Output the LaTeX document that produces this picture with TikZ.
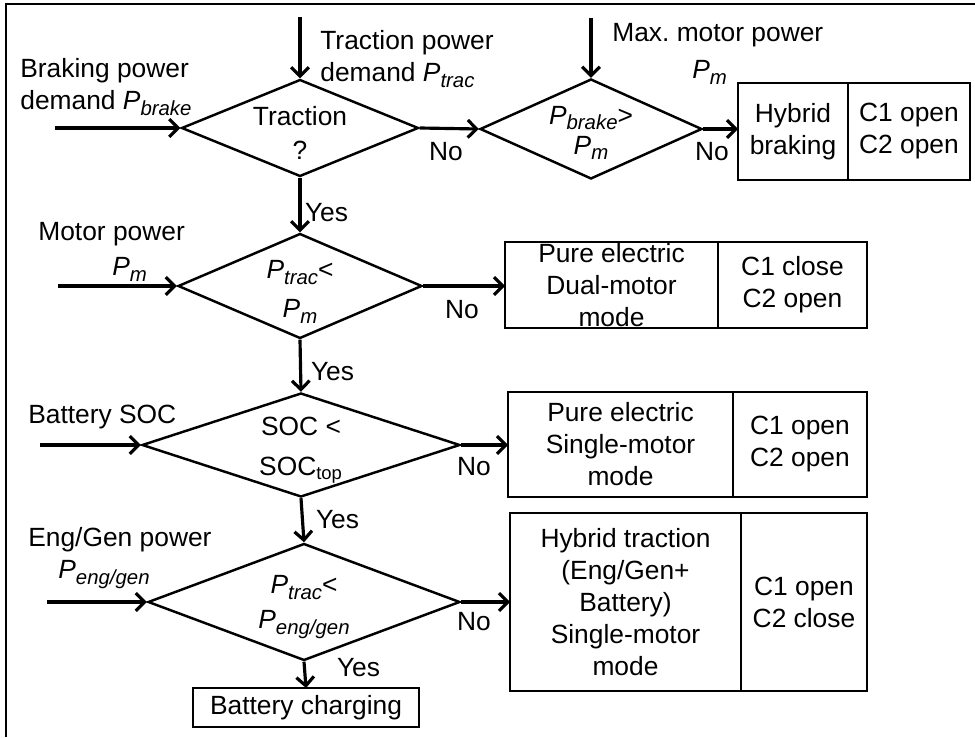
\documentclass[tikz,border=0pt]{standalone}
\usepackage{fontspec}
\setmainfont{Liberation Sans}
\usetikzlibrary{arrows.meta, positioning, shapes.geometric}
\newcommand{\pv}[1]{\textit{P}\raisebox{-3.2pt}{\fontsize{11.6}{12}\selectfont\textit{#1}}}

\begin{document}
\begin{tikzpicture}[>={Straight Barb[length=5pt,width=10pt]}, x=1cm, y=1cm,
      font=\fontsize{15}{18.2}\selectfont,
      dia/.style={diamond, draw, line width=1.4pt, inner sep=0pt},
      box/.style={draw, line width=1.4pt, inner sep=0pt, outer sep=0pt, align=center},
      lbl/.style={align=left, anchor=west, inner sep=0pt},
      ar/.style={->, line width=1.8pt}]
    \useasboundingbox (0,0) rectangle (19.5,14.74);
    \draw[line width=1.7pt] (0.12,0) -- (0.12,14.66) -- (19.5,14.66);
    % decisions
    \node[dia, minimum width=4.74cm, minimum height=1.94cm,
          label={[align=center, yshift=-0.1cm]center:{Traction\\[1.5pt]?}}] (T) at (6,12.18) {};
    \node[dia, minimum width=4.44cm, minimum height=2.0cm,
          label={[align=center, yshift=-0.08cm]center:{\pv{brake}>\\[-1pt]\pv{m}}}] (B) at (11.82,12.16) {};
    \node[dia, minimum width=4.88cm, minimum height=2.1cm,
          label={[align=center, yshift=-0.12cm]center:{\pv{trac}<\\[4pt]\pv{m}}}] (M) at (6,9.02) {};
    \node[dia, minimum width=6.36cm, minimum height=2.08cm,
          label={[align=center, yshift=-0.1cm]center:{SOC <\\[4.5pt]SOC\textsubscript{top}}}] (S) at (6.02,5.84) {};
    \node[dia, minimum width=6.24cm, minimum height=2.34cm,
          label={[align=center, yshift=-0.1cm]center:{\pv{trac}<\\[1.5pt]\pv{eng/gen}}}] (G) at (6.08,2.7) {};
    % modes
    \node[box, minimum width=2.2cm, minimum height=1.94cm] (HB) at (15.86,12.11) {Hybrid\\braking};
    \node[box, minimum width=2.44cm, minimum height=1.94cm, right=0pt of HB] (HBc) {C1 open\\C2 open};
    \node[box, minimum width=4.26cm, minimum height=1.72cm] (PD) at (12.23,9.04) {Pure electric\\Dual-motor\\mode};
    \node[box, minimum width=2.98cm, minimum height=1.72cm, right=0pt of PD] (PDc) {C1 close\\C2 open};
    \node[box, minimum width=4.5cm, minimum height=2.1cm] (PS) at (12.41,5.85) {Pure electric\\Single-motor\\mode};
    \node[box, minimum width=2.68cm, minimum height=2.1cm, right=0pt of PS] (PSc) {C1 open\\C2 open};
    \node[box, minimum width=4.62cm, minimum height=3.56cm] (HT) at (12.51,2.7)
         {Hybrid traction\\(Eng/Gen+\\Battery)\\Single-motor\\mode};
    \node[box, minimum width=2.52cm, minimum height=3.56cm, right=0pt of HT] (HTc) {C1 open\\C2 close};
    \node[box, minimum width=4.52cm, minimum height=0.78cm] (BC) at (6.12,0.59) {Battery charging};
    % inputs
    \node[lbl] (inB) at (0.4,13.0) {Braking power\\[0pt]demand \pv{brake}};
    \node[lbl] (inT) at (6.4,13.56) {Traction power\\[0pt]demand \pv{trac}};
    \node[lbl] (inX) at (12.24,13.66) {Max.\ motor power\\[3pt]\hspace*{1.6cm}\pv{m}};
    \node[lbl] (inM) at (0.76,9.7) {Motor power\\[1.5pt]\hspace*{1.48cm}\pv{m}};
    \node[lbl] (inS) at (0.56,6.4) {Battery SOC};
    \node[lbl] (inG) at (0.56,3.58) {Eng/Gen power\\[0pt]\hspace*{0.6cm}\pv{eng/gen}};
    \draw[ar] (T.north |- 0,14.4) -- (T.north);
    \draw[ar] (B.north |- 0,14.38) -- (B.north);
    \foreach \n/\x in {T/1.1, M/1.16, S/0.8, G/0.94}
      \draw[ar] (\x,0 |- \n.west) -- (\n.west);
    % flow
    \draw[ar] (T.east) -- (B.west);
    \draw[ar] (B.east) -- (B.east -| HB.west);
    \draw[ar] (M.east) -- (M.east -| PD.west);
    \draw[ar] (S.east) -- (S.east -| PS.west);
    \draw[ar] (G.east) -- (G.east -| HT.west);
    \draw[ar] (T.south) -- (M.north);
    \draw[ar] (M.south) -- (S.north);
    \draw[ar] (S.south) -- (G.north);
    \draw[ar] (G.south) -- (BC.north);
    \foreach \x/\y [count=\i] in {8.92/11.7, 14.24/11.7, 9.24/8.54, 9.48/5.4, 9.48/2.3}
      \node[inner sep=0pt] (no\i) at (\x,\y) {No};
    \foreach \x/\y [count=\i] in {6.53/10.48, 6.65/7.3, 6.75/4.34, 7.17/1.38}
      \node[inner sep=0pt] (yes\i) at (\x,\y) {Yes};
  \end{tikzpicture}
\end{document}
